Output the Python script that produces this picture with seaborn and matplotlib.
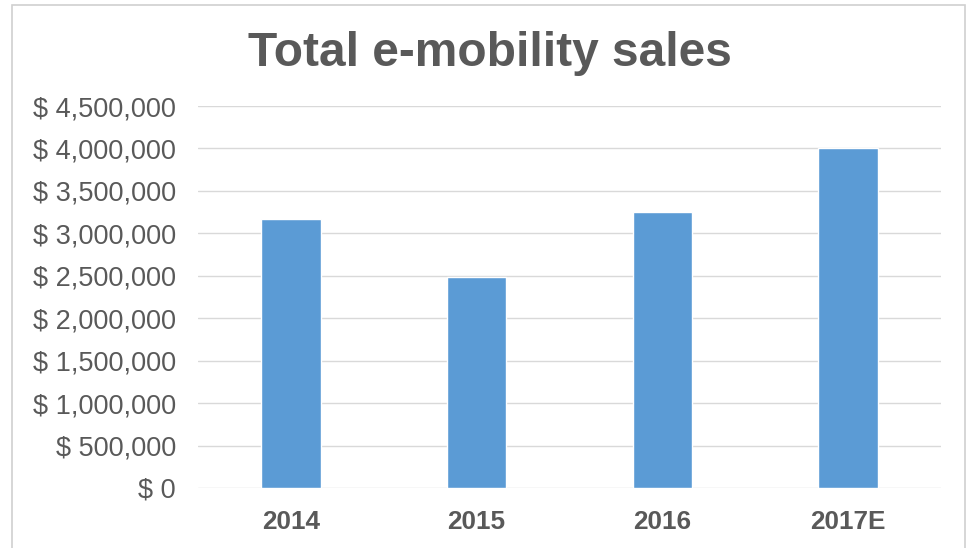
import matplotlib
matplotlib.use("Agg")
import matplotlib.pyplot as plt
from matplotlib.patches import Rectangle
from matplotlib.ticker import FuncFormatter
import seaborn as sns
import pandas as pd

years = ["2014", "2015", "2016", "2017E"]
sales = [3170000, 2490000, 3250000, 4000000]
y_ticks = [0, 500000, 1000000, 1500000, 2000000, 2500000, 3000000, 3500000, 4000000, 4500000]

sns.set_theme(style="white")
plt.rcParams["font.family"] = ["Liberation Sans", "DejaVu Sans"]

text_color = "#595959"
bar_color = "#5B9BD5"
grid_color = "#D9D9D9"

df = pd.DataFrame({"year": years, "sales": sales})

fig = plt.figure(figsize=(9.73, 5.48), dpi=100)
ax = fig.add_axes([198 / 973, 60 / 548, (941 - 198) / 973, (442 - 60) / 548])

sns.barplot(data=df, x="year", y="sales", color=bar_color, width=0.32,
            saturation=1, ax=ax, zorder=3)

ax.set_ylim(0, 4500000)
ax.set_yticks(y_ticks)
ax.yaxis.set_major_formatter(FuncFormatter(lambda v, p: f"$ {int(v):,}"))
ax.grid(axis="y", color=grid_color, linewidth=1.0, zorder=0)
ax.grid(axis="x", visible=False)
for s in ax.spines.values():
    s.set_visible(False)
ax.set_xlabel("")
ax.set_ylabel("")
ax.tick_params(axis="y", length=0, pad=16, labelsize=19.5, labelcolor=text_color)
ax.tick_params(axis="x", length=0, pad=16, labelsize=18.8, labelcolor=text_color)
for lbl in ax.get_xticklabels():
    lbl.set_fontweight("bold")

fig.text(490 / 973, 1 - 66 / 548, "Total e-mobility sales", ha="center", va="baseline",
         fontsize=34.5, fontweight="bold", color=text_color)

# thin chart-area frame
fig.patches.append(Rectangle((12 / 973, -0.05), (965 - 12) / 973, 1 - 4.5 / 548 + 0.05,
                             transform=fig.transFigure, fill=False,
                             edgecolor="#D0D0D0", linewidth=1.2))

fig.savefig("out.png", dpi=100, facecolor="white")
